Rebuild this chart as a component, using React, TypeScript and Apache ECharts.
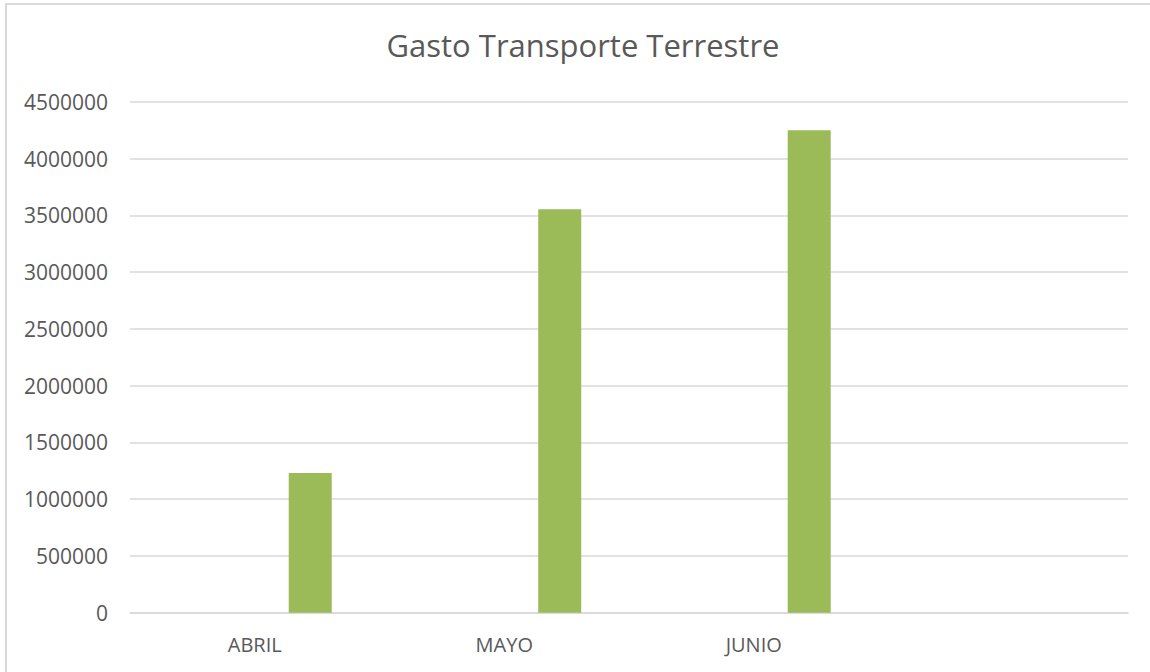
import React, { useEffect, useRef } from "react";
import * as echarts from "echarts";

const TITLE = "Gasto Transporte Terrestre";
const categories = ["ABRIL", "MAYO", "JUNIO", ""];
const gastoValues = [1230000, 3555000, 4250000, null];
const emptyValues = [null, null, null, null];
const Y_MIN = 0;
const Y_MAX = 4500000;
const Y_INTERVAL = 500000;

const FONT = "'Open Sans', 'Noto Sans', sans-serif";
const TEXT_COLOR = "#595959";
const GRID_COLOR = "#D9D9D9";
const BAR_COLOR = "#9BBB59";

export default function App() {
  const ref = useRef<HTMLDivElement>(null);
  useEffect(() => {
    if (!ref.current) return;
    const chart = echarts.init(ref.current, null, { renderer: "svg" });
    chart.setOption({
      animation: false,
      backgroundColor: "#ffffff",
      graphic: [
        {
          type: "rect",
          z: -10,
          shape: { x: 6, y: 4, width: 1300, height: 800 },
          style: { fill: "none", stroke: GRID_COLOR, lineWidth: 2 },
          silent: true,
        },
        {
          type: "text",
          x: 583,
          y: 45,
          style: {
            text: TITLE,
            fontSize: 31,
            fontFamily: FONT,
            fill: TEXT_COLOR,
            align: "center",
            verticalAlign: "middle",
          },
          silent: true,
        },
      ],
      grid: { left: 130, right: 22, top: 102, bottom: 59.3, containLabel: false },
      xAxis: {
        type: "category",
        data: categories,
        axisLine: { show: true, lineStyle: { color: GRID_COLOR, width: 1.5 } },
        axisTick: { show: false },
        axisLabel: {
          color: TEXT_COLOR,
          fontSize: 20,
          fontFamily: FONT,
          margin: 22,
        },
      },
      yAxis: {
        type: "value",
        min: Y_MIN,
        max: Y_MAX,
        interval: Y_INTERVAL,
        axisLine: { show: false },
        axisTick: { show: false },
        splitLine: { lineStyle: { color: GRID_COLOR, width: 1.5 } },
        axisLabel: {
          color: TEXT_COLOR,
          fontSize: 21,
          fontFamily: FONT,
          margin: 22,
          formatter: (v: number) => String(v),
        },
      },
      series: [
        {
          type: "bar",
          name: "vacío",
          data: emptyValues,
          barWidth: 43,
          barGap: "158%",
          itemStyle: { color: "transparent" },
        },
        {
          type: "bar",
          name: "Gasto",
          data: gastoValues,
          barWidth: 43,
          barGap: "158%",
          itemStyle: { color: BAR_COLOR },
        },
      ],
    });
    return () => chart.dispose();
  }, []);
  return (
    <div
      ref={ref}
      style={{ position: "fixed", left: 0, top: 0, width: 1150, height: 672, background: "#fff" }}
    />
  );
}
